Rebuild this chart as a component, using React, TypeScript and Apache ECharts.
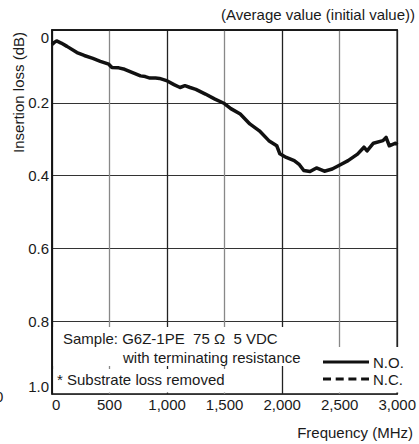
import React, { useEffect, useRef } from "react";
import * as echarts from "echarts";

const frequency = [0, 20, 40, 80, 130, 217, 280, 355, 420, 493, 521, 580, 631, 700, 769, 810, 851, 900, 934, 975, 1002, 1060, 1113, 1155, 1200, 1250, 1333, 1416, 1498, 1554, 1636, 1719, 1802, 1884, 1953, 1980, 2036, 2105, 2150, 2188, 2242, 2298, 2367, 2435, 2518, 2573, 2655, 2711, 2738, 2793, 2876, 2903, 2931, 2986, 3000];
const lossNO = [0.040, 0.034, 0.030, 0.036, 0.045, 0.062, 0.070, 0.078, 0.086, 0.094, 0.103, 0.104, 0.108, 0.117, 0.126, 0.128, 0.132, 0.132, 0.133, 0.137, 0.140, 0.150, 0.158, 0.153, 0.158, 0.163, 0.176, 0.190, 0.202, 0.216, 0.231, 0.258, 0.277, 0.304, 0.318, 0.340, 0.350, 0.359, 0.370, 0.386, 0.389, 0.379, 0.388, 0.382, 0.368, 0.359, 0.341, 0.322, 0.332, 0.311, 0.304, 0.295, 0.318, 0.311, 0.315];
const lossNC: number[] = [];
const seriesNames = ["N.O.", "N.C."];
const xTicks = [0, 500, 1000, 1500, 2000, 2500, 3000];

const FONT = "'Liberation Sans', Arial, Helvetica, sans-serif";
const FS = 15;
const INK = "#1a1a1a";
const Z = 100;

export default function App() {
  const ref = useRef<HTMLDivElement>(null);
  useEffect(() => {
    if (!ref.current) return;
    const chart = echarts.init(ref.current, null, { renderer: "svg" });
    const txt = (text: string, x: number, y: number) => ({
      type: "text",
      x,
      y,
      z: Z + 2,
      style: { text, fill: INK, font: `${FS}px ${FONT}`, textVerticalAlign: "middle" },
    });
    const rect = (x: number, y: number, width: number, height: number) => ({
      type: "rect",
      z: Z,
      shape: { x, y, width, height },
      style: { fill: "#fff" },
    });
    const option: any = {
      animation: false,
      backgroundColor: "#fff",
      grid: {
        left: 52,
        top: 30,
        width: 363,
        height: 364,
        show: true,
        borderColor: "#111",
        borderWidth: 1.5,
        backgroundColor: "transparent",
      },
      xAxis: {
        type: "value",
        min: xTicks[0],
        max: xTicks[xTicks.length - 1],
        interval: 500,
        axisLine: { show: true, lineStyle: { color: "#111", width: 1.5 } },
        axisTick: { show: false },
        axisLabel: {
          color: INK,
          fontFamily: FONT,
          fontSize: FS,
          margin: 3,
          alignMinLabel: "left",
          alignMaxLabel: "center",
          formatter: (v: number) => v.toLocaleString("en-US"),
        },
        splitLine: { show: true, lineStyle: { color: ["#222", "#888"], width: 1.3 } },
      },
      yAxis: {
        type: "value",
        inverse: true,
        min: 0,
        max: 1,
        interval: 0.2,
        axisLine: { show: true, lineStyle: { color: "#111", width: 1.5 } },
        axisTick: { show: false },
        axisLabel: {
          color: INK,
          fontFamily: FONT,
          fontSize: FS,
          margin: 3,
          verticalAlignMinLabel: "top",
          verticalAlignMaxLabel: "bottom",
          formatter: (v: number) => (v === 0 ? "0" : v.toFixed(1)),
        },
        splitLine: { show: true, lineStyle: { color: "#333", width: 1.2 } },
      },
      series: [
        {
          name: seriesNames[0],
          type: "line",
          data: frequency.map((f, i) => [f, lossNO[i]]),
          symbol: "none",
          lineStyle: { color: "#111", width: 3.5, type: "solid", join: "round" },
          itemStyle: { color: "#111" },
          z: 5,
        },
        {
          name: seriesNames[1],
          type: "line",
          data: lossNC,
          symbol: "none",
          lineStyle: { color: "#111", width: 3, type: [8, 5] },
          itemStyle: { color: "#111" },
        },
      ],
      graphic: [
        rect(53.5, 327, 249, 31),
        rect(53.5, 358, 240, 8),
        rect(53.5, 369, 180.5, 23.5),
        rect(312, 347, 101.5, 45.5),
        txt("Sample: G6Z-1PE  75 Ω  5 VDC", 63, 338),
        txt("with terminating resistance", 123, 357),
        txt("* Substrate loss removed", 57, 379),
        {
          type: "line",
          z: Z + 2,
          shape: { x1: 323, y1: 362, x2: 369, y2: 362 },
          style: { stroke: "#111", lineWidth: 3 },
        },
        {
          type: "line",
          z: Z + 2,
          shape: { x1: 323, y1: 379, x2: 369, y2: 379 },
          style: { stroke: "#111", lineWidth: 3, lineDash: [8, 4.7] },
        },
        txt(seriesNames[0], 373, 362),
        txt(seriesNames[1], 373, 379),
        {
          type: "text",
          right: 4,
          top: 7,
          z: Z,
          style: { text: "(Average value (initial value))", fill: INK, font: `${FS}px ${FONT}` },
        },
        {
          type: "text",
          right: 6,
          top: 425,
          z: Z,
          style: { text: "Frequency (MHz)", fill: INK, font: `${FS}px ${FONT}` },
        },
        {
          type: "text",
          x: 18,
          y: 32,
          z: Z,
          rotation: Math.PI / 2,
          style: {
            text: "Insertion loss (dB)",
            fill: INK,
            font: `${FS}px ${FONT}`,
            textAlign: "right",
            textVerticalAlign: "middle",
          },
        },
        {
          type: "text",
          x: -5,
          y: 396,
          z: Z,
          style: { text: "0", fill: INK, font: `${FS}px ${FONT}`, textVerticalAlign: "middle" },
        },
      ],
    };
    chart.setOption(option);
    return () => chart.dispose();
  }, []);
  return (
    <div
      ref={ref}
      style={{ position: "fixed", left: 0, top: 0, width: 419, height: 444 }}
    />
  );
}
